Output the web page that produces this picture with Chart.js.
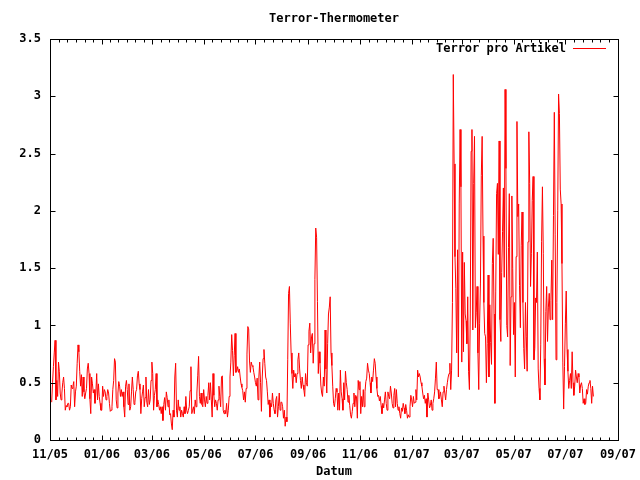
<!DOCTYPE html>
<html>
<head>
<meta charset="utf-8">
<script src="https://cdn.jsdelivr.net/npm/chart.js@4.4.1/dist/chart.umd.min.js"></script>
<style>
html,body{margin:0;padding:0;background:#fff;}
#wrap{width:640px;height:480px;}
</style>
</head>
<body>
<div id="wrap"><canvas id="c" width="640" height="480"></canvas></div>
<script>
// ---- texts ----
const chartTitle = 'Terror-Thermometer';
const seriesLabel = 'Terror pro Artikel';
const xAxisTitle = 'Datum';
// ---- x axis tick labels (month/year) ----
const xTickLabels = ['11/05','01/06','03/06','05/06','07/06','09/06','11/06','01/07','03/07','05/07','07/07','09/07'];
// first data day
const firstDate = [2005, 11, 3];
// ---- daily values, one array per month ----
const nov05 = [0.33,0.50,0.64,0.76,0.87,0.35,0.52,0.38,0.68,0.60,0.41,0.35,0.41,0.50,0.55,0.45,0.26,0.30,0.29,0.32,0.32,0.26,0.29,0.48,0.45,0.47,0.51,0.29];
const dec05 = [0.42,0.47,0.67,0.83,0.77,0.60,0.47,0.57,0.38,0.55,0.42,0.36,0.41,0.45,0.62,0.67,0.58,0.36,0.23,0.55,0.49,0.41,0.44,0.32,0.41,0.58,0.35,0.49,0.38,0.32,0.26];
const jan06 = [0.26,0.47,0.38,0.44,0.42,0.35,0.38,0.44,0.41,0.32,0.25,0.26,0.29,0.44,0.52,0.71,0.68,0.35,0.28,0.41,0.51,0.47,0.38,0.44,0.38,0.42,0.29,0.20,0.47,0.52,0.44];
const feb06 = [0.31,0.49,0.26,0.29,0.42,0.55,0.44,0.31,0.33,0.42,0.44,0.56,0.60,0.49,0.44,0.23,0.36,0.42,0.48,0.29,0.37,0.55,0.33,0.29,0.44,0.31,0.35,0.52];
const mar06 = [0.68,0.58,0.26,0.39,0.44,0.58,0.29,0.35,0.31,0.26,0.29,0.23,0.29,0.17,0.31,0.37,0.26,0.42,0.37,0.29,0.35,0.22,0.23,0.14,0.09,0.26,0.20,0.55,0.67,0.26,0.20];
const apr06 = [0.35,0.26,0.29,0.20,0.26,0.23,0.20,0.29,0.23,0.38,0.26,0.23,0.26,0.29,0.43,0.64,0.23,0.26,0.29,0.23,0.35,0.29,0.41,0.56,0.73,0.38,0.32,0.41,0.31,0.29];
const may06 = [0.44,0.35,0.29,0.38,0.32,0.39,0.50,0.35,0.50,0.35,0.20,0.58,0.39,0.29,0.35,0.32,0.26,0.35,0.47,0.38,0.29,0.55,0.56,0.26,0.23,0.26,0.23,0.32,0.20,0.26,0.38];
const jun06 = [0.55,0.68,0.92,0.78,0.56,0.74,0.93,0.59,0.60,0.64,0.59,0.62,0.55,0.49,0.46,0.43,0.35,0.42,0.33,0.45,0.75,0.99,0.97,0.69,0.59,0.68,0.65,0.64,0.59,0.55];
const jul06 = [0.50,0.47,0.54,0.35,0.55,0.68,0.50,0.25,0.55,0.71,0.79,0.67,0.55,0.52,0.42,0.31,0.35,0.20,0.32,0.29,0.41,0.32,0.26,0.23,0.35,0.38,0.20,0.29,0.41,0.26,0.33];
const aug06 = [0.33,0.29,0.19,0.26,0.12,0.20,0.16,0.70,1.28,1.34,1.02,0.76,0.58,0.45,0.61,0.55,0.58,0.50,0.58,0.70,0.76,0.62,0.52,0.45,0.55,0.48,0.44,0.38,0.58,0.50,0.47];
const sep06 = [0.83,0.95,1.02,0.76,0.90,0.93,0.67,0.84,1.40,1.85,1.77,1.21,0.58,0.77,0.67,0.48,0.41,0.38,0.55,0.47,0.96,0.62,0.41,0.84,1.10,1.16,1.25,0.76,0.65,0.47];
const oct06 = [0.32,0.29,0.36,0.45,0.42,0.26,0.41,0.26,0.61,0.42,0.36,0.26,0.50,0.35,0.60,0.50,0.44,0.33,0.39,0.30,0.22,0.19,0.25,0.32,0.41,0.29,0.39,0.38,0.19,0.52,0.44];
const nov06 = [0.51,0.23,0.38,0.29,0.44,0.29,0.42,0.51,0.54,0.67,0.61,0.58,0.50,0.41,0.55,0.51,0.61,0.71,0.67,0.55,0.45,0.38,0.39,0.34,0.38,0.30,0.23,0.32,0.28,0.35];
const dec06 = [0.42,0.32,0.26,0.42,0.38,0.36,0.47,0.41,0.32,0.28,0.39,0.45,0.29,0.44,0.32,0.26,0.29,0.23,0.19,0.28,0.25,0.32,0.28,0.23,0.31,0.26,0.19,0.22,0.20,0.29,0.39];
const jan07 = [0.35,0.29,0.38,0.32,0.33,0.44,0.35,0.61,0.55,0.58,0.55,0.50,0.47,0.41,0.36,0.39,0.32,0.36,0.20,0.41,0.35,0.28,0.30,0.35,0.26,0.32,0.36,0.42,0.54,0.68,0.44];
const feb07 = [0.44,0.36,0.38,0.42,0.35,0.29,0.42,0.47,0.41,0.35,0.44,0.50,0.55,0.58,0.67,0.44,0.61,1.20,3.19,2.41,1.60,1.32,0.76,1.66,0.55,2.06,2.71,2.21];
const mar07 = [0.68,1.64,0.77,1.55,1.10,1.04,0.84,1.25,0.60,0.44,1.10,2.52,2.71,0.96,2.24,2.65,0.98,1.11,1.34,0.76,0.44,1.02,1.37,2.31,2.65,1.78,1.20,0.93,0.90,0.50,0.84];
const apr07 = [1.44,0.55,1.18,0.85,0.66,1.54,1.76,1.10,0.32,1.30,2.15,2.24,1.62,2.61,1.05,0.86,1.46,1.82,2.20,1.42,3.06,2.37,1.00,0.90,1.68,2.15,0.65,1.25,2.13,1.50];
const may07 = [0.92,1.20,0.55,1.60,2.78,1.95,2.06,1.35,0.98,1.70,1.99,1.20,0.80,0.62,1.20,0.90,0.60,1.73,2.69,2.24,1.34,1.63,2.09,2.30,0.70,0.80,1.24,1.20,1.64,0.62,0.45];
const jun07 = [0.35,0.83,1.73,2.21,1.63,0.71,0.48,1.12,1.34,0.86,1.16,1.28,1.05,1.22,1.57,1.05,1.96,2.86,1.79,0.70,1.20,2.00,3.02,2.85,2.19,2.06,1.54,0.68,0.27,0.64];
const jul07 = [1.02,1.30,0.79,0.60,0.45,0.52,0.58,0.45,0.77,0.50,0.39,0.47,0.61,0.55,0.50,0.58,0.55,0.41,0.48,0.50,0.45,0.32,0.36,0.31,0.32,0.44,0.40,0.47,0.50,0.52,0.45];
const aug07 = [0.32,0.47,0.38];

const monthlySeries = [nov05,dec05,jan06,feb06,mar06,apr06,may06,jun06,jul06,aug06,sep06,oct06,
                       nov06,dec06,jan07,feb07,mar07,apr07,may07,jun07,jul07,aug07];

// ---- derived ----
const DAY = 86400000;
const origin = Date.UTC(2005, 10, 1);
function dayOf(y, m, d) { return (Date.UTC(y, m - 1, d) - origin) / DAY; }
const tickDays = xTickLabels.map(l => { const [m, yy] = l.split('/').map(Number); return dayOf(2000 + yy, m, 1); });
const labelOfDay = {}; tickDays.forEach((d, i) => labelOfDay[d] = xTickLabels[i]);
const startDay = dayOf(firstDate[0], firstDate[1], firstDate[2]);
const values = [].concat(...monthlySeries);
const points = values.map((v, i) => ({ x: startDay + i, y: v }));

const FONT = { family: "'DejaVu Sans Mono', 'Liberation Mono', monospace", size: 12, weight: 'bold', lineHeight: 1 };
Chart.defaults.color = '#000';

const gnuplotFrame = {
  id: 'gnuplotFrame',
  afterDatasetsDraw(chart) {
    const { ctx, chartArea: a, scales: { x, y } } = chart;
    const L = Math.round(a.left) + 0.5, R = Math.round(a.right) + 0.5;
    const T = Math.round(a.top) + 0.5, B = Math.round(a.bottom) + 0.5;
    ctx.save();
    ctx.strokeStyle = '#000';
    ctx.lineWidth = 1;
    const seg = (x1, y1, x2, y2) => { ctx.beginPath(); ctx.moveTo(x1, y1); ctx.lineTo(x2, y2); ctx.stroke(); };
    ctx.strokeRect(L, T, R - L, B - T);
    // y ticks (inward, mirrored)
    y.ticks.forEach(t => {
      const py = Math.round(y.getPixelForValue(t.value)) + 0.5;
      seg(L, py, L + 5, py); seg(R, py, R - 5, py);
    });
    // x major + minor ticks (inward, mirrored)
    tickDays.forEach((d, i) => {
      const px = Math.round(x.getPixelForValue(d)) + 0.5;
      seg(px, B, px, B - 5); seg(px, T, px, T + 5);
      if (i < tickDays.length - 1) {
        const step = (tickDays[i + 1] - d) / 6;
        for (let k = 1; k < 6; k++) {
          const mx = Math.round(x.getPixelForValue(d + k * step)) + 0.5;
          seg(mx, B, mx, B - 3); seg(mx, T, mx, T + 3);
        }
      }
    });
    // legend inside plot, top right
    const ds = chart.data.datasets[0];
    ctx.font = `bold ${FONT.size}px ${FONT.family}`;
    ctx.fillStyle = '#000';
    ctx.textAlign = 'right';
    ctx.textBaseline = 'middle';
    const ly = Math.round(a.top + 9) + 0.5;
    ctx.fillText(ds.label, a.right - 52, ly);
    ctx.strokeStyle = ds.borderColor;
    seg(a.right - 45, ly, a.right - 12, ly);
    ctx.restore();
  }
};

new Chart(document.getElementById('c'), {
  type: 'line',
  data: {
    datasets: [{
      label: seriesLabel,
      data: points,
      borderColor: '#ff0000',
      borderWidth: 1,
      pointRadius: 0,
      fill: false,
      tension: 0
    }]
  },
  options: {
    responsive: false,
    animation: false,
    devicePixelRatio: 1,
    parsing: false,
    normalized: true,
    layout: { padding: { left: 0, right: 22, top: 0, bottom: 0 } },
    plugins: {
      legend: { display: false },
      tooltip: { enabled: false },
      title: {
        display: true, text: chartTitle, fullSize: false, color: '#000',
        font: FONT, padding: { top: 13, bottom: 14 }
      }
    },
    scales: {
      x: {
        type: 'linear',
        min: tickDays[0],
        max: tickDays[tickDays.length - 1],
        grid: { display: false, drawTicks: true, tickLength: 6 },
        border: { display: false },
        afterBuildTicks: s => { s.ticks = tickDays.map(v => ({ value: v })); },
        afterFit: s => { s.height = 40; },
        ticks: {
          autoSkip: false, maxRotation: 0, minRotation: 0, padding: 3,
          font: FONT, color: '#000',
          callback: v => labelOfDay[v] ?? ''
        },
        title: { display: true, text: xAxisTitle, font: FONT, color: '#000', padding: { top: 0, bottom: 2 } }
      },
      y: {
        min: 0, max: 3.5,
        grid: { display: false, drawTicks: true, tickLength: 6 },
        border: { display: false },
        afterFit: s => { s.width = 50; },
        ticks: { stepSize: 0.5, padding: 3, font: FONT, color: '#000', callback: v => String(+v.toFixed(2)) }
      }
    }
  },
  plugins: [gnuplotFrame]
});
</script>
</body>
</html>
